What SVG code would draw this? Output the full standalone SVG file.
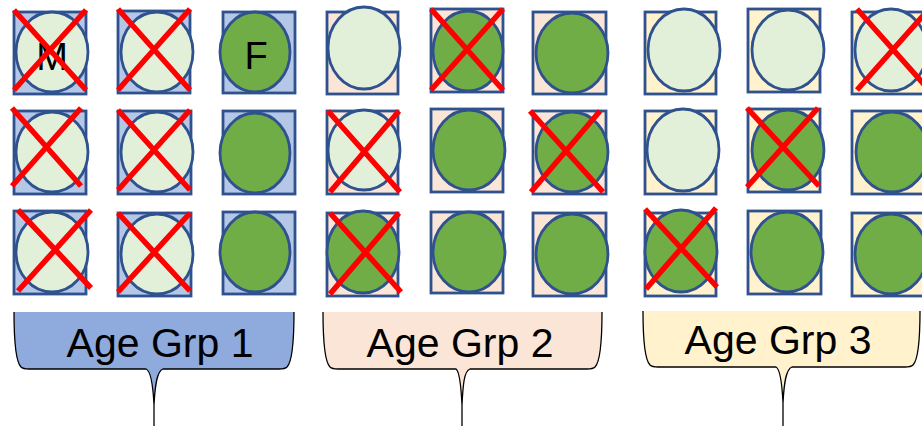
<svg xmlns="http://www.w3.org/2000/svg" width="922" height="426" viewBox="0 0 922 426">
<style>
.b1{fill:#b4c7e7;stroke:#2f528f;stroke-width:2.8}
.b2{fill:#fbe5d6;stroke:#2f528f;stroke-width:2.8}
.b3{fill:#fff2cc;stroke:#2f528f;stroke-width:2.8}
.lt{fill:#e2f0d9;stroke:#2f528f;stroke-width:2.8}
.dk{fill:#70ad47;stroke:#2f528f;stroke-width:2.8}
.x{stroke:#ff0000;stroke-width:5.5;fill:none}
.lbl{font-family:"Liberation Sans",Arial,sans-serif;font-size:41px;fill:#000;text-anchor:middle}
.sym{font-family:"Liberation Sans",Arial,sans-serif;font-size:38px;fill:#000;text-anchor:middle}
.edge{fill:none;stroke:#000;stroke-width:1.3}
</style>
<rect width="922" height="426" fill="#fff"/>
<!-- Group 1 -->
<g id="g1r1c1"><rect class="b1" x="14" y="12" width="72" height="82"/><ellipse class="lt" cx="52" cy="52" rx="36" ry="40"/><text class="sym" x="52" y="70">M</text><path class="x" d="M14,10 L86,90 M86,10 L14,90"/></g>
<g id="g1r1c2"><rect class="b1" x="118" y="11" width="72" height="82"/><ellipse class="lt" cx="157" cy="52" rx="36" ry="40"/><path class="x" d="M118,9 L190,90 M190,9 L118,90"/></g>
<g id="g1r1c3"><rect class="b1" x="223" y="12" width="72" height="81"/><ellipse class="dk" cx="255" cy="52" rx="35" ry="40"/><text class="sym" x="256" y="69">F</text></g>
<g id="g1r2c1"><rect class="b1" x="14" y="111" width="72" height="83"/><ellipse class="lt" cx="52" cy="152" rx="36" ry="40"/><path class="x" d="M12,108 L81,186 M81,108 L12,186"/></g>
<g id="g1r2c2"><rect class="b1" x="118" y="111" width="73" height="83"/><ellipse class="lt" cx="157" cy="152" rx="36" ry="40"/><path class="x" d="M118,110 L190,190 M190,110 L118,190"/></g>
<g id="g1r2c3"><rect class="b1" x="223" y="111" width="72" height="83"/><ellipse class="dk" cx="255" cy="153" rx="35" ry="40"/></g>
<g id="g1r3c1"><rect class="b1" x="14" y="211" width="72" height="83"/><ellipse class="lt" cx="52" cy="252" rx="36" ry="40"/><path class="x" d="M18,210 L91,288 M91,210 L18,291"/></g>
<g id="g1r3c2"><rect class="b1" x="118" y="213" width="73" height="83"/><ellipse class="lt" cx="157" cy="254" rx="36" ry="40"/><path class="x" d="M118,213 L190,291 M190,213 L118,292"/></g>
<g id="g1r3c3"><rect class="b1" x="223" y="212" width="72" height="82"/><ellipse class="dk" cx="255" cy="252" rx="35" ry="40"/></g>
<!-- Group 2 -->
<g id="g2r1c1"><rect class="b2" x="327" y="12" width="71" height="82"/><ellipse class="lt" cx="364" cy="48" rx="36" ry="41"/></g>
<g id="g2r1c2"><rect class="b2" x="431" y="9" width="72" height="83"/><ellipse class="dk" cx="468" cy="51" rx="35" ry="40"/><path class="x" d="M431,9 L503,90 M503,9 L431,90"/></g>
<g id="g2r1c3"><rect class="b2" x="533" y="12" width="73" height="82"/><ellipse class="dk" cx="572" cy="53" rx="36" ry="40"/></g>
<g id="g2r2c1"><rect class="b2" x="327" y="111" width="71" height="83"/><ellipse class="lt" cx="364" cy="150" rx="36" ry="40"/><path class="x" d="M328,111 L400,192 M399,111 L330,192"/></g>
<g id="g2r2c2"><rect class="b2" x="431" y="109" width="72" height="83"/><ellipse class="dk" cx="469" cy="150" rx="36" ry="40"/></g>
<g id="g2r2c3"><rect class="b2" x="533" y="111" width="73" height="83"/><ellipse class="dk" cx="572" cy="152" rx="36" ry="40"/><path class="x" d="M530,111 L603,192 M600,111 L531,192"/></g>
<g id="g2r3c1"><rect class="b2" x="327" y="213" width="71" height="83"/><ellipse class="dk" cx="363" cy="252" rx="36" ry="41"/><path class="x" d="M330,213 L401,292 M399,213 L330,294"/></g>
<g id="g2r3c2"><rect class="b2" x="431" y="212" width="72" height="81"/><ellipse class="dk" cx="469" cy="252" rx="36" ry="40"/></g>
<g id="g2r3c3"><rect class="b2" x="533" y="213" width="73" height="83"/><ellipse class="dk" cx="572" cy="254" rx="36" ry="40"/></g>
<!-- Group 3 -->
<g id="g3r1c1"><rect class="b3" x="645" y="12" width="71" height="82"/><ellipse class="lt" cx="684" cy="50" rx="36" ry="41"/></g>
<g id="g3r1c2"><rect class="b3" x="748" y="9" width="72" height="83"/><ellipse class="lt" cx="788" cy="50" rx="36" ry="40"/></g>
<g id="g3r1c3"><rect class="b3" x="852" y="12" width="72" height="82"/><ellipse class="lt" cx="891" cy="50" rx="36" ry="41"/><path class="x" d="M857,9 L929,90 M929,9 L857,90"/></g>
<g id="g3r2c1"><rect class="b3" x="645" y="111" width="71" height="83"/><ellipse class="lt" cx="683" cy="150" rx="36" ry="41"/></g>
<g id="g3r2c2"><rect class="b3" x="748" y="109" width="72" height="83"/><ellipse class="dk" cx="788" cy="150" rx="36" ry="40"/><path class="x" d="M747,108 L819,186 M818,108 L747,187"/></g>
<g id="g3r2c3"><rect class="b3" x="852" y="111" width="72" height="83"/><ellipse class="dk" cx="892" cy="152" rx="36" ry="40"/></g>
<g id="g3r3c1"><rect class="b3" x="645" y="213" width="71" height="83"/><ellipse class="dk" cx="681" cy="251" rx="36" ry="41"/><path class="x" d="M645,209 L717,287 M716,208 L646,289"/></g>
<g id="g3r3c2"><rect class="b3" x="748" y="211" width="73" height="83"/><ellipse class="dk" cx="787" cy="252" rx="36" ry="40"/></g>
<g id="g3r3c3"><rect class="b3" x="852" y="213" width="72" height="83"/><ellipse class="dk" cx="891" cy="254" rx="36" ry="40"/></g>
<!-- Callouts -->
<g id="callout1">
<path fill="#8faadc" d="M14,312 L294,312 C294,345 292,362 287,367 Q285,369 279,369 L163,369 C157,371 155,385 154,405 C153,385 151,371 146,369 L29,369 Q23,369 21,367 C16,362 14,345 14,312 Z"/>
<path class="edge" d="M294,312 C294,345 292,362 287,367 Q285,369 279,369 L163,369 C157,371 155,385 154,405 L154,426 M154,405 C153,385 151,371 146,369 L29,369 Q23,369 21,367 C16,362 14,345 14,312"/>
<text class="lbl" x="160" y="357">Age Grp 1</text>
</g>
<g id="callout2">
<path fill="#fbe5d6" d="M323,312 L602,312 C602,345 600,362 595,367 Q593,369 587,369 L470,369 C464,371 463,385 462,405 C461,385 459,371 456,369 L338,369 Q332,369 330,367 C325,362 323,345 323,312 Z"/>
<path class="edge" d="M602,312 C602,345 600,362 595,367 Q593,369 587,369 L470,369 C464,371 463,385 462,405 L462,426 M462,405 C461,385 459,371 456,369 L338,369 Q332,369 330,367 C325,362 323,345 323,312"/>
<text class="lbl" x="460" y="357">Age Grp 2</text>
</g>
<g id="callout3">
<path fill="#fff2cc" d="M643,311 L920,311 C920,344 918,360 913,365 Q911,367 905,367 L792,367 C786,369 784,383 783,403 C782,383 780,369 776,367 L658,367 Q652,367 650,365 C645,360 643,344 643,311 Z"/>
<path class="edge" d="M920,311 C920,344 918,360 913,365 Q911,367 905,367 L792,367 C786,369 784,383 783,403 L783,426 M783,403 C782,383 780,369 776,367 L658,367 Q652,367 650,365 C645,360 643,344 643,311"/>
<text class="lbl" x="778" y="354">Age Grp 3</text>
</g>
</svg>
